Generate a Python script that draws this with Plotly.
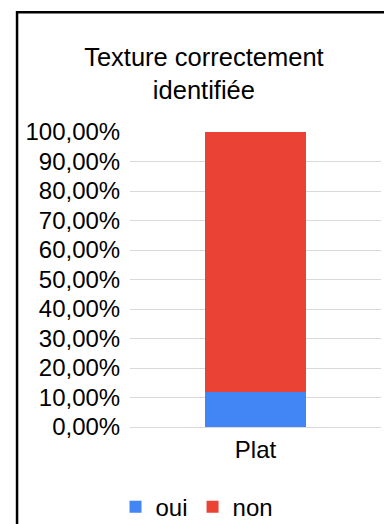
import plotly.graph_objects as go

# Data
categories = ["Plat"]
oui_values = [0.12]
non_values = [0.88]
tick_values = [0.0, 0.1, 0.2, 0.3, 0.4, 0.5, 0.6, 0.7, 0.8, 0.9, 1.0]
tick_labels = ["0,00%", "10,00%", "20,00%", "30,00%", "40,00%", "50,00%",
               "60,00%", "70,00%", "80,00%", "90,00%", "100,00%"]

FONT = "Liberation Sans, Arial, sans-serif"

fig = go.Figure()
fig.add_trace(go.Bar(x=categories, y=oui_values, name="oui",
                     marker=dict(color="#4285F4", line=dict(width=0))))
fig.add_trace(go.Bar(x=categories, y=non_values, name="non",
                     marker=dict(color="#EA4335", line=dict(width=0))))

fig.update_layout(
    width=384, height=524,
    barmode="stack", bargap=0.6,
    paper_bgcolor="white", plot_bgcolor="white",
    margin=dict(l=130, r=3, t=132, b=97, pad=0, autoexpand=False),
    font=dict(family=FONT, color="#000000", size=24),
    title=dict(text="Texture correctement<br>identifiée",
               font=dict(family=FONT, size=25.5, color="#000000"),
               x=0.531, xanchor="center", xref="container",
               y=0.874, yanchor="top", yref="container"),
    showlegend=True,
    legend=dict(orientation="h", x=0.267, xanchor="center",
                y=-0.272, yanchor="middle",
                font=dict(family=FONT, size=24, color="#000000"),
                bgcolor="rgba(0,0,0,0)", traceorder="normal"),
    xaxis=dict(showgrid=False, showline=False, zeroline=False, automargin=False,
               ticks="outside", ticklen=1, tickcolor="rgba(0,0,0,0)",
               tickfont=dict(family=FONT, size=24, color="#000000")),
    yaxis=dict(range=[0, 1], tickvals=tick_values, ticktext=tick_labels,
               automargin=False,
               showgrid=True, gridcolor="#d9d9d9", gridwidth=1.3,
               zeroline=True, zerolinecolor="#d9d9d9", zerolinewidth=1.3,
               showline=False,
               ticks="outside", ticklen=4, tickcolor="rgba(0,0,0,0)",
               tickfont=dict(family=FONT, size=24, color="#000000")),
    shapes=[dict(type="rect", xref="paper", yref="paper",
                 x0=-0.450, x1=1.10, y0=-0.5, y1=1.406,
                 line=dict(color="#000000", width=2.5),
                 fillcolor="rgba(0,0,0,0)", layer="above")],
)

fig.write_html("out.html")
